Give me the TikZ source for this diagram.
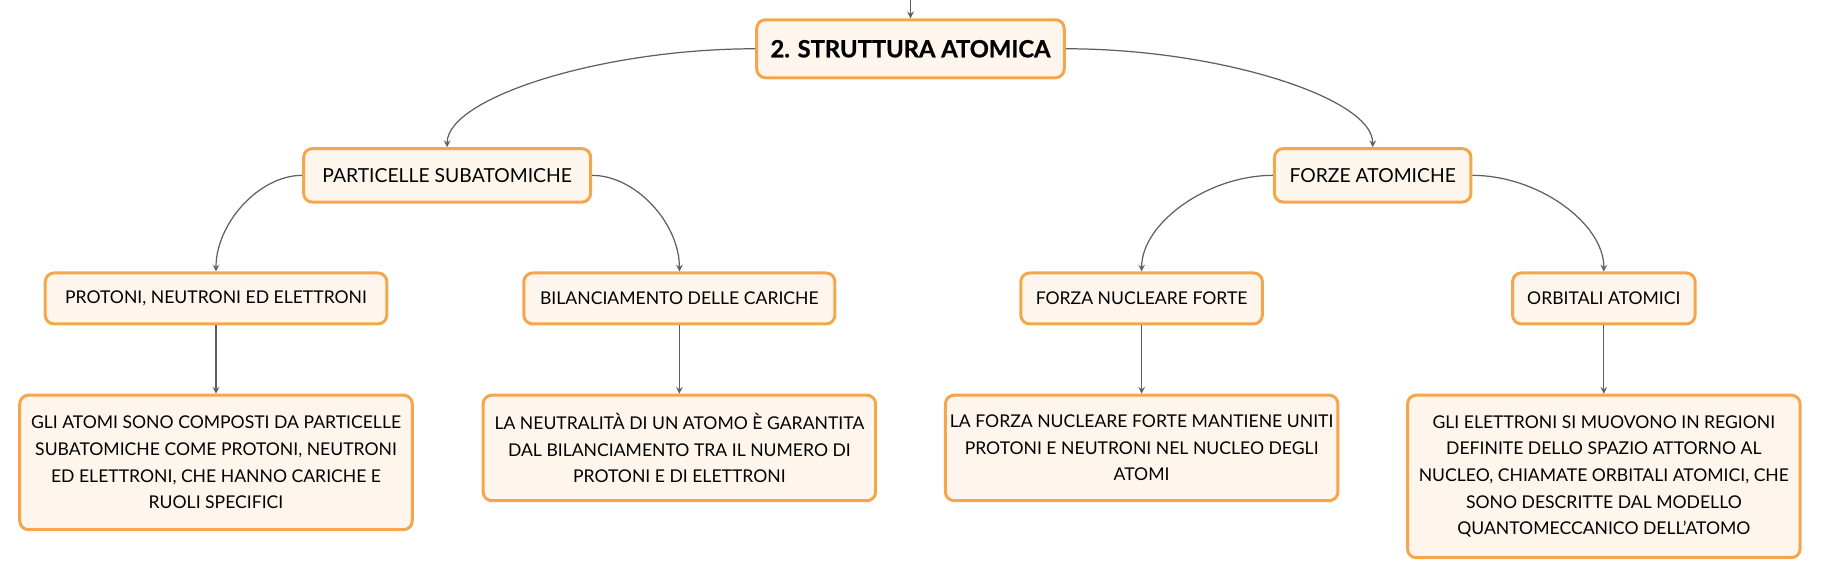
\documentclass[tikz,border=0pt]{standalone}
\usepackage{fontspec}
\setmainfont{Lato}
\newfontfamily\heavyfont[BoldFeatures={FakeBold=0.8}]{Lato}
\usetikzlibrary{calc}
\definecolor{boxline}{RGB}{245,166,77}
\definecolor{boxfill}{RGB}{254,246,237}
\definecolor{wire}{RGB}{95,95,95}

\begin{document}
\begin{tikzpicture}[
    x=0.023226cm, y=0.023226cm,
    box/.style={rectangle, draw=boxline, line width=1.7pt, fill=boxfill,
                rounded corners=5pt, align=center, inner sep=0pt},
    topic/.style={box, font=\heavyfont\bfseries\fontsize{13.5}{16}\selectfont,
                  minimum height=1.16cm},
    branch/.style={box, font=\fontsize{11}{13}\selectfont,
                   minimum height=1.07cm},
    item/.style={box, font=\fontsize{10}{12}\selectfont,
                 minimum height=1.02cm},
    leaf/.style={box, anchor=north, font=\fontsize{10}{15.1}\selectfont,
                 minimum width=7.85cm},
    arr/.style={->, >=stealth, wire, line width=0.7pt},
    link/.style={arr, to path={.. controls
        ($(\tikztostart)!0.5!(\tikztotarget |- \tikztostart)$) and
        ($(\tikztotarget)!0.5!(\tikztotarget |- \tikztostart)$) ..
        (\tikztotarget) \tikztonodes}},
  ]
  \useasboundingbox (0,0) rectangle (1568,497);

  % Root
  \coordinate (in) at (784,497);
  \node[topic, minimum width=6.15cm] (root) at (784,455) {2. STRUTTURA ATOMICA};

  % Branches
  \node[branch, minimum width=5.74cm] (part)  at (385,346)  {PARTICELLE SUBATOMICHE};
  \node[branch, minimum width=3.93cm] (forze) at (1182,346) {FORZE ATOMICHE};

  % Topics
  \node[item, minimum width=6.83cm] (prot) at (186,240)  {PROTONI, NEUTRONI ED ELETTRONI};
  \node[item, minimum width=6.22cm] (bil)  at (585,240)  {BILANCIAMENTO DELLE CARICHE};
  \node[item, minimum width=4.83cm] (nucl) at (983,240)  {FORZA NUCLEARE FORTE};
  \node[item, minimum width=3.65cm] (orb)  at (1381,240) {ORBITALI ATOMICI};

  % Descriptions
  \node[leaf, minimum height=2.69cm] (dprot) at (186,158) {%
    GLI ATOMI SONO COMPOSTI DA PARTICELLE\\
    SUBATOMICHE COME PROTONI, NEUTRONI\\
    ED ELETTRONI, CHE HANNO CARICHE E\\
    RUOLI SPECIFICI};
  \node[leaf, minimum height=2.11cm] (dbil) at (585,158) {%
    LA NEUTRALITÀ DI UN ATOMO È GARANTITA\\
    DAL BILANCIAMENTO TRA IL NUMERO DI\\
    PROTONI E DI ELETTRONI};
  \node[leaf, minimum height=2.11cm] (dnucl) at (983,158) {%
    LA FORZA NUCLEARE FORTE MANTIENE UNITI\\
    PROTONI E NEUTRONI NEL NUCLEO DEGLI\\
    ATOMI};
  \node[leaf, minimum height=3.25cm] (dorb) at (1381,158) {%
    GLI ELETTRONI SI MUOVONO IN REGIONI\\
    DEFINITE DELLO SPAZIO ATTORNO AL\\
    NUCLEO, CHIAMATE ORBITALI ATOMICI, CHE\\
    SONO DESCRITTE DAL MODELLO\\
    QUANTOMECCANICO DELL’ATOMO};

  % Curved links
  \draw[arr] (in) -- (root);
  \draw[link] (root.west)  to (part.north);
  \draw[link] (root.east)  to (forze.north);
  \draw[link] (part.west)  to (prot.north);
  \draw[link] (part.east)  to (bil.north);
  \draw[link] (forze.west) to (nucl.north);
  \draw[link] (forze.east) to (orb.north);

  % Straight links down
  \draw[arr] (prot) -- (dprot);
  \draw[arr] (bil)  -- (dbil);
  \draw[arr] (nucl) -- (dnucl);
  \draw[arr] (orb)  -- (dorb);

\end{tikzpicture}
\end{document}
